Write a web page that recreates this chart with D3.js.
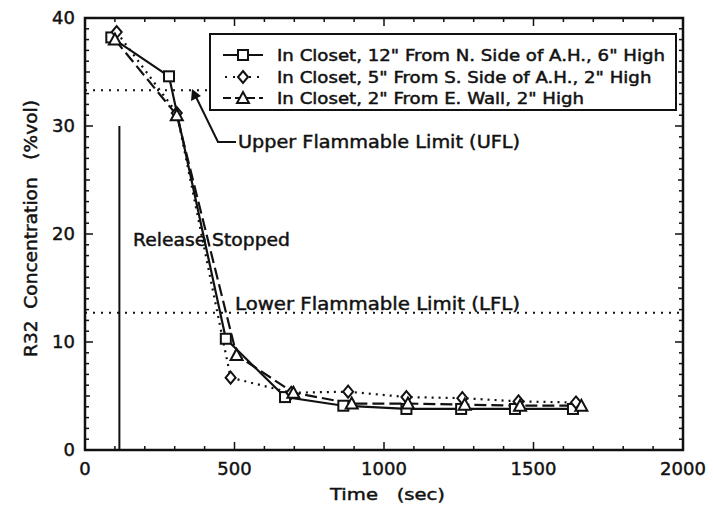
<!DOCTYPE html>
<html><head><meta charset="utf-8">
<script src="https://cdn.jsdelivr.net/npm/d3@7"></script>
<style>
body{margin:0;background:#fff;}
svg{display:block;}
text{font-family:"DejaVu Sans",sans-serif;fill:#111;stroke:#111;stroke-width:0.45px;}
</style></head><body>
<svg id="c" width="713" height="508"></svg>
<script>
const seriesNames = [
  "In Closet, 12\" From N. Side of A.H., 6\" High",
  "In Closet, 5\" From S. Side of A.H., 2\" High",
  "In Closet, 2\" From E. Wall, 2\" High"
];
const timesSq = [88, 281, 471, 669, 864, 1075, 1258, 1438, 1632];
const valsSq  = [38.2, 34.6, 10.3, 4.9, 4.1, 3.8, 3.8, 3.8, 3.8];
const timesDi = [106, 307, 487, 690, 880, 1075, 1262, 1450, 1642];
const valsDi  = [38.7, 31.2, 6.7, 5.3, 5.4, 4.9, 4.8, 4.5, 4.4];
const timesTr = [100, 307, 507, 697, 892, 1080, 1270, 1455, 1660];
const valsTr  = [38.0, 31.0, 8.8, 5.3, 4.3, 4.3, 4.2, 4.1, 4.1];
const xTickLabels = [0, 500, 1000, 1500, 2000];
const yTickLabels = [0, 10, 20, 30, 40];
const UFL = 33.3, LFL = 12.7, releaseTime = 115, releaseTop = 30;

const svg = d3.select("#c");
const L = 85, R = 683, T = 18, B = 450;
const x = d3.scaleLinear().domain([0, 2000]).range([L, R]);
const y = d3.scaleLinear().domain([0, 40]).range([B, T]);

// frame
svg.append("rect").attr("x", L).attr("y", T).attr("width", R - L).attr("height", B - T)
  .attr("fill", "none").attr("stroke", "#111").attr("stroke-width", 2.5);

// ticks
const g = svg.append("g").attr("stroke", "#111");
d3.range(0, 2001, 100).forEach(v => {
  const len = v % 500 === 0 ? 8 : 4;
  g.append("line").attr("x1", x(v)).attr("x2", x(v)).attr("y1", B).attr("y2", B - len).attr("stroke-width", 1.5);
  g.append("line").attr("x1", x(v)).attr("x2", x(v)).attr("y1", T).attr("y2", T + len).attr("stroke-width", 1.5);
});
d3.range(0, 41, 1).forEach(v => {
  const len = v % 10 === 0 ? 8 : (v % 5 === 0 ? 5 : 4);
  g.append("line").attr("x1", L).attr("x2", L + len).attr("y1", y(v)).attr("y2", y(v)).attr("stroke-width", 1.5);
  g.append("line").attr("x1", R).attr("x2", R - len).attr("y1", y(v)).attr("y2", y(v)).attr("stroke-width", 1.5);
});

// tick labels
xTickLabels.forEach(v => {
  svg.append("text").attr("x", x(v)).attr("y", B + 25).attr("text-anchor", "middle")
    .attr("font-size", 18).text(v);
});
yTickLabels.forEach(v => {
  svg.append("text").attr("x", L - 10).attr("y", y(v) + 6).attr("text-anchor", "end")
    .attr("font-size", 18).text(v);
});

// axis titles
svg.append("text").attr("x", 330).attr("y", 500)
  .attr("font-size", 16).attr("xml:space", "preserve")
  .attr("textLength", 115).attr("lengthAdjust", "spacingAndGlyphs").text("Time   (sec)");
svg.append("text").attr("transform", `translate(37,357) rotate(-90)`)
  .attr("font-size", 17).attr("xml:space", "preserve")
  .attr("textLength", 257).attr("lengthAdjust", "spacingAndGlyphs").text("R32  Concentration   (%vol)");

// flammable limits
svg.append("line").attr("x1", L).attr("x2", 210).attr("y1", y(UFL)).attr("y2", y(UFL))
  .attr("stroke", "#111").attr("stroke-width", 2).attr("stroke-dasharray", "2,6");
svg.append("line").attr("x1", L).attr("x2", R).attr("y1", y(LFL)).attr("y2", y(LFL))
  .attr("stroke", "#111").attr("stroke-width", 2).attr("stroke-dasharray", "2,6");

// release stopped line
svg.append("line").attr("x1", x(releaseTime)).attr("x2", x(releaseTime)).attr("y1", y(0)).attr("y2", y(releaseTop))
  .attr("stroke", "#111").attr("stroke-width", 2);
svg.append("text").attr("x", 133).attr("y", 246).attr("font-size", 17)
  .attr("textLength", 157).attr("lengthAdjust", "spacingAndGlyphs").text("Release Stopped");

// UFL annotation
svg.append("path").attr("d", "M236,142 L218,142 L196,97").attr("fill", "none").attr("stroke", "#111").attr("stroke-width", 2);
svg.append("path").attr("d", "M192,89 L191,101 L201,96 Z").attr("fill", "#111");
svg.append("text").attr("x", 238).attr("y", 148).attr("font-size", 17)
  .attr("textLength", 282).attr("lengthAdjust", "spacingAndGlyphs").text("Upper Flammable Limit (UFL)");
svg.append("text").attr("x", 235).attr("y", 310).attr("font-size", 17)
  .attr("textLength", 285).attr("lengthAdjust", "spacingAndGlyphs").text("Lower Flammable Limit (LFL)");

// series
const series = [
  {t: timesSq, v: valsSq, dash: null, shape: "sq"},
  {t: timesDi, v: valsDi, dash: "2,5", shape: "di"},
  {t: timesTr, v: valsTr, dash: "12,5", shape: "tr"}
];
const line = d3.line().x(d => x(d[0])).y(d => y(d[1]));
function marker(sel, shape, cx, cy) {
  if (shape === "sq") {
    sel.append("rect").attr("x", cx - 5).attr("y", cy - 5).attr("width", 10).attr("height", 10)
      .attr("fill", "#fff").attr("stroke", "#111").attr("stroke-width", 2);
  } else if (shape === "di") {
    sel.append("path").attr("d", `M${cx},${cy - 6} L${cx + 5},${cy} L${cx},${cy + 6} L${cx - 5},${cy} Z`)
      .attr("fill", "#fff").attr("stroke", "#111").attr("stroke-width", 2);
  } else {
    sel.append("path").attr("d", `M${cx},${cy - 6} L${cx + 6},${cy + 5} L${cx - 6},${cy + 5} Z`)
      .attr("fill", "#fff").attr("stroke", "#111").attr("stroke-width", 2);
  }
}
series.forEach(s => {
  const pts = s.t.map((t, i) => [t, s.v[i]]);
  const p = svg.append("path").attr("d", line(pts)).attr("fill", "none").attr("stroke", "#111")
    .attr("stroke-width", 2.2);
  if (s.dash) p.attr("stroke-dasharray", s.dash);
});
series.forEach(s => {
  s.t.forEach((t, i) => marker(svg, s.shape, x(t), y(s.v[i])));
});

// legend
const lg = svg.append("g");
lg.append("rect").attr("x", 210).attr("y", 34).attr("width", 466).attr("height", 76)
  .attr("fill", "#fff").attr("stroke", "#111").attr("stroke-width", 2);
const rowY = [55, 77, 98];
let scale = 1;
series.forEach((s, i) => {
  const l = lg.append("line").attr("x1", 223).attr("x2", 263).attr("y1", rowY[i]).attr("y2", rowY[i])
    .attr("stroke", "#111").attr("stroke-width", 2.2);
  if (s.dash) l.attr("stroke-dasharray", s.shape === "di" ? "2,6" : "8,4");
  if (s.shape === "di") l.attr("x1", 225).attr("x2", 263);
  marker(lg, s.shape, 243, rowY[i]);
  const t = lg.append("text").attr("x", 277).attr("y", rowY[i] + 5.5).attr("font-size", 15)
    .text(seriesNames[i]);
  const w = t.node().getComputedTextLength();
  if (i === 0) scale = 388 / w;
  t.attr("textLength", w * scale).attr("lengthAdjust", "spacingAndGlyphs");
});
</script></body></html>
